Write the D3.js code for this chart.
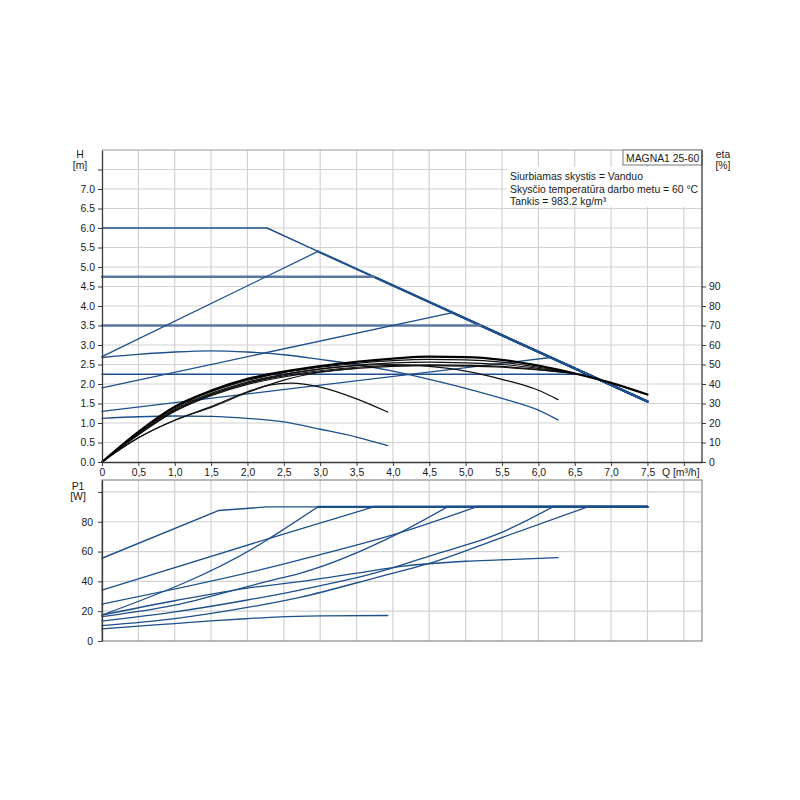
<!DOCTYPE html>
<html><head><meta charset="utf-8">
<script src="https://cdn.jsdelivr.net/npm/d3@7"></script>
<style>
body{margin:0;background:#fff}
text{font-family:"Liberation Sans",Arial,sans-serif;font-size:10.4px;fill:#1a1a1a}
</style>
</head><body>
<svg id="c" width="800" height="800"></svg>
<script>
// ---------- tick labels ----------
const qTicks = [0,0.5,1,1.5,2,2.5,3,3.5,4,4.5,5,5.5,6,6.5,7,7.5,8];
const qTickLabels = ["0","0,5","1,0","1,5","2,0","2,5","3,0","3,5","4,0","4,5","5,0","5,5","6,0","6,5","7,0","7,5",""];
const hTicks = [0,0.5,1,1.5,2,2.5,3,3.5,4,4.5,5,5.5,6,6.5,7,7.5];
const hTickLabels = ["0.0","0.5","1.0","1.5","2.0","2.5","3.0","3.5","4.0","4.5","5.0","5.5","6.0","6.5","7.0",""];
const etaTicks = [0,10,20,30,40,50,60,70,80,90];
const etaTickLabels = ["0","10","20","30","40","50","60","70","80","90"];
const pTicks = [0,20,40,60,80,100];
const pTickLabels = ["0","20","40","60","80",""];

// ---------- head curves H [m] vs Q [m3/h] ----------
const hMax      = [[0,6.0],[2.27,6.0],[7.5,1.55]];
const hPropHigh = [[0,2.7],[2.97,5.4]];
const hConst475 = [[0,4.75],[3.74,4.75]];
const hConst35  = [[0,3.5],[5.2,3.5]];
const hPropMid  = [[0,1.9],[4.82,3.83]];
const hConst225 = [[0,2.25],[6.68,2.25]];
const hPropLow  = [[0,1.3],[6.17,2.68]];
const hFixedIII = [[0,2.68],[0.5,2.76],[1,2.82],[1.5,2.85],[2,2.82],[2.5,2.75],[3,2.63],[3.5,2.5],[4,2.33],[4.5,2.12],[5,1.89],[5.5,1.63],[6,1.33],[6.27,1.08]];
const hFixedI   = [[0,1.12],[0.5,1.16],[1,1.18],[1.5,1.17],[2,1.12],[2.5,1.03],[3,0.84],[3.5,0.64],[3.93,0.42]];

// ---------- efficiency curves eta [%] ----------
const etaQ     = [0,0.5,1,1.5,2,2.5,3,3.5,4,4.5,5,5.5,6,6.5,7,7.5];
const etaMax   = [0,15.5,28.4,36.6,42.6,46.4,49.2,51.4,53.0,54.0,53.8,52.4,49.4,45.4,40.6,34.6];
const etaB1    = [0,15.2,27.8,36.0,41.8,45.8,48.6,50.6,52.0,52.6,52.4,51.2,48.6,45.4];
const etaB2    = [0,14.8,27.2,35.2,41.0,45.0,47.8,49.6,50.8,51.2,50.8,50.0,48.0,45.4];
const etaB3    = [0,14.4,26.6,34.6,40.4,44.2,46.8,48.6,49.6,49.8,49.6,49.0,47.4,45.4];
const etaB4    = [0,14.0,26.0,34.0,39.8,43.6,46.2,48.0,49.0,49.4,49.2,48.6,47.2,45.4];
const etaFixedIII = [[0,0],[0.5,14.0],[1,26.0],[1.5,34.4],[2,40.4],[2.5,44.8],[3,47.6],[3.5,49.4],[4,50.0],[4.5,49.0],[5,46.6],[5.5,42.4],[6,36.8],[6.27,32.0]];
const etaLow      = [[0,0],[0.5,12.4],[1,21.4],[1.5,28.0],[2,35.6],[2.5,42.0],[3,46.0],[3.5,48.0]];
const etaFixedI   = [[0,0],[0.5,12.4],[1,21.4],[1.5,28.4],[2,36.0],[2.3,39.4],[2.6,40.4],[3,38.4],[3.5,32.4],[3.93,25.6]];

// ---------- power curves P1 [W] ----------
const pMax      = [[0,55.5],[1.6,87.5],[2.27,90],[7.5,90]];
const pConst475 = [[0,34.2],[2.45,71.1],[3.74,90]];
const pPropHigh = [[0,17.4],[2.27,67.8],[2.45,73.4],[2.97,90]];
const pConst35  = [[0,24.8],[2.45,51],[2.72,54.4],[4.09,72.5],[5.15,90]];
const pPropMid  = [[0,16.3],[1,24],[2,36.5],[2.45,42.1],[2.72,45.4],[4.09,72.5],[4.75,90]];
const pPropLow  = [[0,13.4],[1,19.5],[2,27.5],[2.72,34.2],[3.82,46.5],[4.5,57],[5.47,72.3],[6.2,90]];
const pConst225 = [[0,10.3],[1,15],[2,22.5],[2.72,29.3],[3.82,43.2],[4.5,52],[5.47,68.9],[6.68,90]];
const pFixedIII = [[0,17.4],[1,27],[2,35.5],[2.72,39.8],[3.5,45.5],[4.09,49.9],[5,53.5],[5.47,54.4],[6.27,55.9]];
const pFixedI   = [[0,8.1],[0.5,10],[1,11.7],[1.5,13.5],[2,15],[2.45,16.2],[3,16.8],[3.93,17.1]];

const infoLines = ["Siurbiamas skystis = Vanduo","Skysčio temperatūra darbo metu = 60 °C","Tankis = 983.2 kg/m³"];
const pumpName = "MAGNA1 25-60";

// ---------- scales ----------
const svg = d3.select("#c");
const x = d3.scaleLinear().domain([0,8.25]).range([102,702]);
const yH = d3.scaleLinear().domain([0,8]).range([462,150]);
const yEta = d3.scaleLinear().domain([0,160]).range([462,150]);
const yP = d3.scaleLinear().domain([0,108]).range([641,480]);

const BLUE = "#1d4f8c", STEEL = "#5a77a2", GRID = "#d2d2d2";

// ---------- grids ----------
const grid = svg.append("g");
qTicks.slice(1).forEach(q => {
  grid.append("line").attr("x1",x(q)).attr("x2",x(q)).attr("y1",yH(8)).attr("y2",yH(0)).attr("stroke",GRID).attr("stroke-width",1.2);
  grid.append("line").attr("x1",x(q)).attr("x2",x(q)).attr("y1",yP(108)).attr("y2",yP(0)).attr("stroke",GRID).attr("stroke-width",1.2);
});
hTicks.slice(1).forEach(h => grid.append("line").attr("x1",x(0)).attr("x2",x(8.25)).attr("y1",yH(h)).attr("y2",yH(h)).attr("stroke",GRID).attr("stroke-width",1.2));
pTicks.slice(1).forEach(p => grid.append("line").attr("x1",x(0)).attr("x2",x(8.25)).attr("y1",yP(p)).attr("y2",yP(p)).attr("stroke",GRID).attr("stroke-width",1.2));

// frames
svg.append("line").attr("x1",x(0)).attr("x2",x(8.25)).attr("y1",yH(8)).attr("y2",yH(8)).attr("stroke","#9a9a9a");
svg.append("rect").attr("x",x(0)).attr("y",yP(108)).attr("width",x(8.25)-x(0)).attr("height",yP(0)-yP(108)).attr("fill","none").attr("stroke","#8a8a8a").attr("stroke-width",1.2);

// ---------- info box ----------
svg.append("rect").attr("x",507).attr("y",167).attr("width",x(8.25)-507).attr("height",40).attr("fill","#fff");
infoLines.forEach((t,i) => svg.append("text").attr("x",510).attr("y",180+i*12.5).text(t));
svg.append("rect").attr("x",623).attr("y",yH(8)).attr("width",x(8.25)-623).attr("height",15).attr("fill","#fff").attr("stroke","#777");
svg.append("text").attr("x",626).attr("y",yH(8)+11.5).text(pumpName);

// ---------- line helpers ----------
function path(data, ys, color, width, curve){
  svg.append("path").datum(data)
    .attr("d", d3.line().x(d=>x(d[0])).y(d=>ys(d[1])).curve(curve||d3.curveLinear))
    .attr("fill","none").attr("stroke",color).attr("stroke-width",width)
    .attr("stroke-linejoin","round").attr("stroke-linecap","round");
}
function alongMaxH(endPt){ return [endPt].concat(hMax.filter(d=>d[0]>endPt[0])); }
function alongMaxP(endPt){ return [endPt].concat(pMax.filter(d=>d[0]>endPt[0])); }

// ---------- top chart: blue head curves ----------
path(hMax.slice(0,2).concat([alongMaxH(hPropHigh[1])[0]]), yH, BLUE, 1.4);
[hPropHigh,hConst475,hConst35,hPropMid,hConst225,hPropLow].forEach(c => path(alongMaxH(c[c.length-1]), yH, BLUE, 2.2));
path(hConst475, yH, STEEL, 2.3);
path(hConst35, yH, STEEL, 2.3);
path(hPropHigh, yH, BLUE, 1.3);
path(hPropMid, yH, BLUE, 1.3);
path(hConst225, yH, BLUE, 1.6);
path(hPropLow, yH, BLUE, 1.3);
path(hFixedIII, yH, BLUE, 1.3, d3.curveMonotoneX);
path(hFixedI, yH, BLUE, 1.3, d3.curveMonotoneX);

// ---------- top chart: black efficiency curves ----------
const zipEta = arr => arr.map((v,i)=>[etaQ[i],v]);
[etaB4,etaB3,etaB2,etaB1].forEach(a => path(zipEta(a), yEta, "#111", 1.2, d3.curveMonotoneX));
path(etaLow, yEta, "#111", 1.1, d3.curveMonotoneX);
path(etaFixedI, yEta, "#111", 1.2, d3.curveMonotoneX);
path(etaFixedIII, yEta, "#111", 1.2, d3.curveMonotoneX);
path(zipEta(etaMax), yEta, "#000", 2.2, d3.curveMonotoneX);

// ---------- bottom chart: power curves ----------
[pConst475,pPropHigh,pConst35,pPropMid,pPropLow,pConst225].forEach(c => path(alongMaxP(c[c.length-1]), yP, BLUE, 2.2));
path(pMax, yP, BLUE, 1.4);
[pConst475,pPropHigh,pConst35,pPropMid,pPropLow,pConst225].forEach(c => path(c, yP, BLUE, 1.3, d3.curveMonotoneX));
path(pFixedIII, yP, BLUE, 1.3, d3.curveMonotoneX);
path(pFixedI, yP, BLUE, 1.3, d3.curveMonotoneX);

// ---------- axes ----------
function styleAxis(g){
  g.select(".domain").attr("stroke","#3a3a3a").attr("stroke-width",1.3);
  g.selectAll(".tick line").attr("stroke","#3a3a3a");
  g.selectAll("text").attr("fill","#1a1a1a").style("font-size","10.4px").style("font-family","Liberation Sans, Arial, sans-serif");
}
const ax1 = svg.append("g").attr("transform",`translate(${x(0)},0)`)
  .call(d3.axisLeft(yH).tickValues(hTicks).tickFormat((d,i)=>hTickLabels[i]).tickSize(4).tickPadding(3).tickSizeOuter(0));
styleAxis(ax1);
const ax2 = svg.append("g").attr("transform",`translate(${x(8.25)},0)`)
  .call(d3.axisRight(yEta).tickValues(etaTicks).tickFormat((d,i)=>etaTickLabels[i]).tickSize(4).tickPadding(3).tickSizeOuter(0));
ax2.select(".domain").attr("d",`M0,${yEta(160)}V${yEta(0)}`);
styleAxis(ax2);
const ax3 = svg.append("g").attr("transform",`translate(0,${yH(0)})`)
  .call(d3.axisBottom(x).tickValues(qTicks).tickFormat((d,i)=>qTickLabels[i]).tickSize(4).tickPadding(3).tickSizeOuter(0));
styleAxis(ax3);
const ax4 = svg.append("g").attr("transform",`translate(${x(0)},0)`)
  .call(d3.axisLeft(yP).tickValues(pTicks).tickFormat((d,i)=>pTickLabels[i]).tickSize(4).tickPadding(5).tickSizeOuter(0));
styleAxis(ax4);

// ---------- axis titles ----------
svg.append("text").attr("x",80).attr("y",158).attr("text-anchor","middle").text("H");
svg.append("text").attr("x",80).attr("y",169).attr("text-anchor","middle").text("[m]");
svg.append("text").attr("x",723).attr("y",158).attr("text-anchor","middle").text("eta");
svg.append("text").attr("x",723).attr("y",169).attr("text-anchor","middle").text("[%]");
svg.append("text").attr("x",78).attr("y",490).attr("text-anchor","middle").text("P1");
svg.append("text").attr("x",78).attr("y",500).attr("text-anchor","middle").text("[W]");
svg.append("text").attr("x",662).attr("y",476).text("Q [m³/h]");
</script>
</body></html>
